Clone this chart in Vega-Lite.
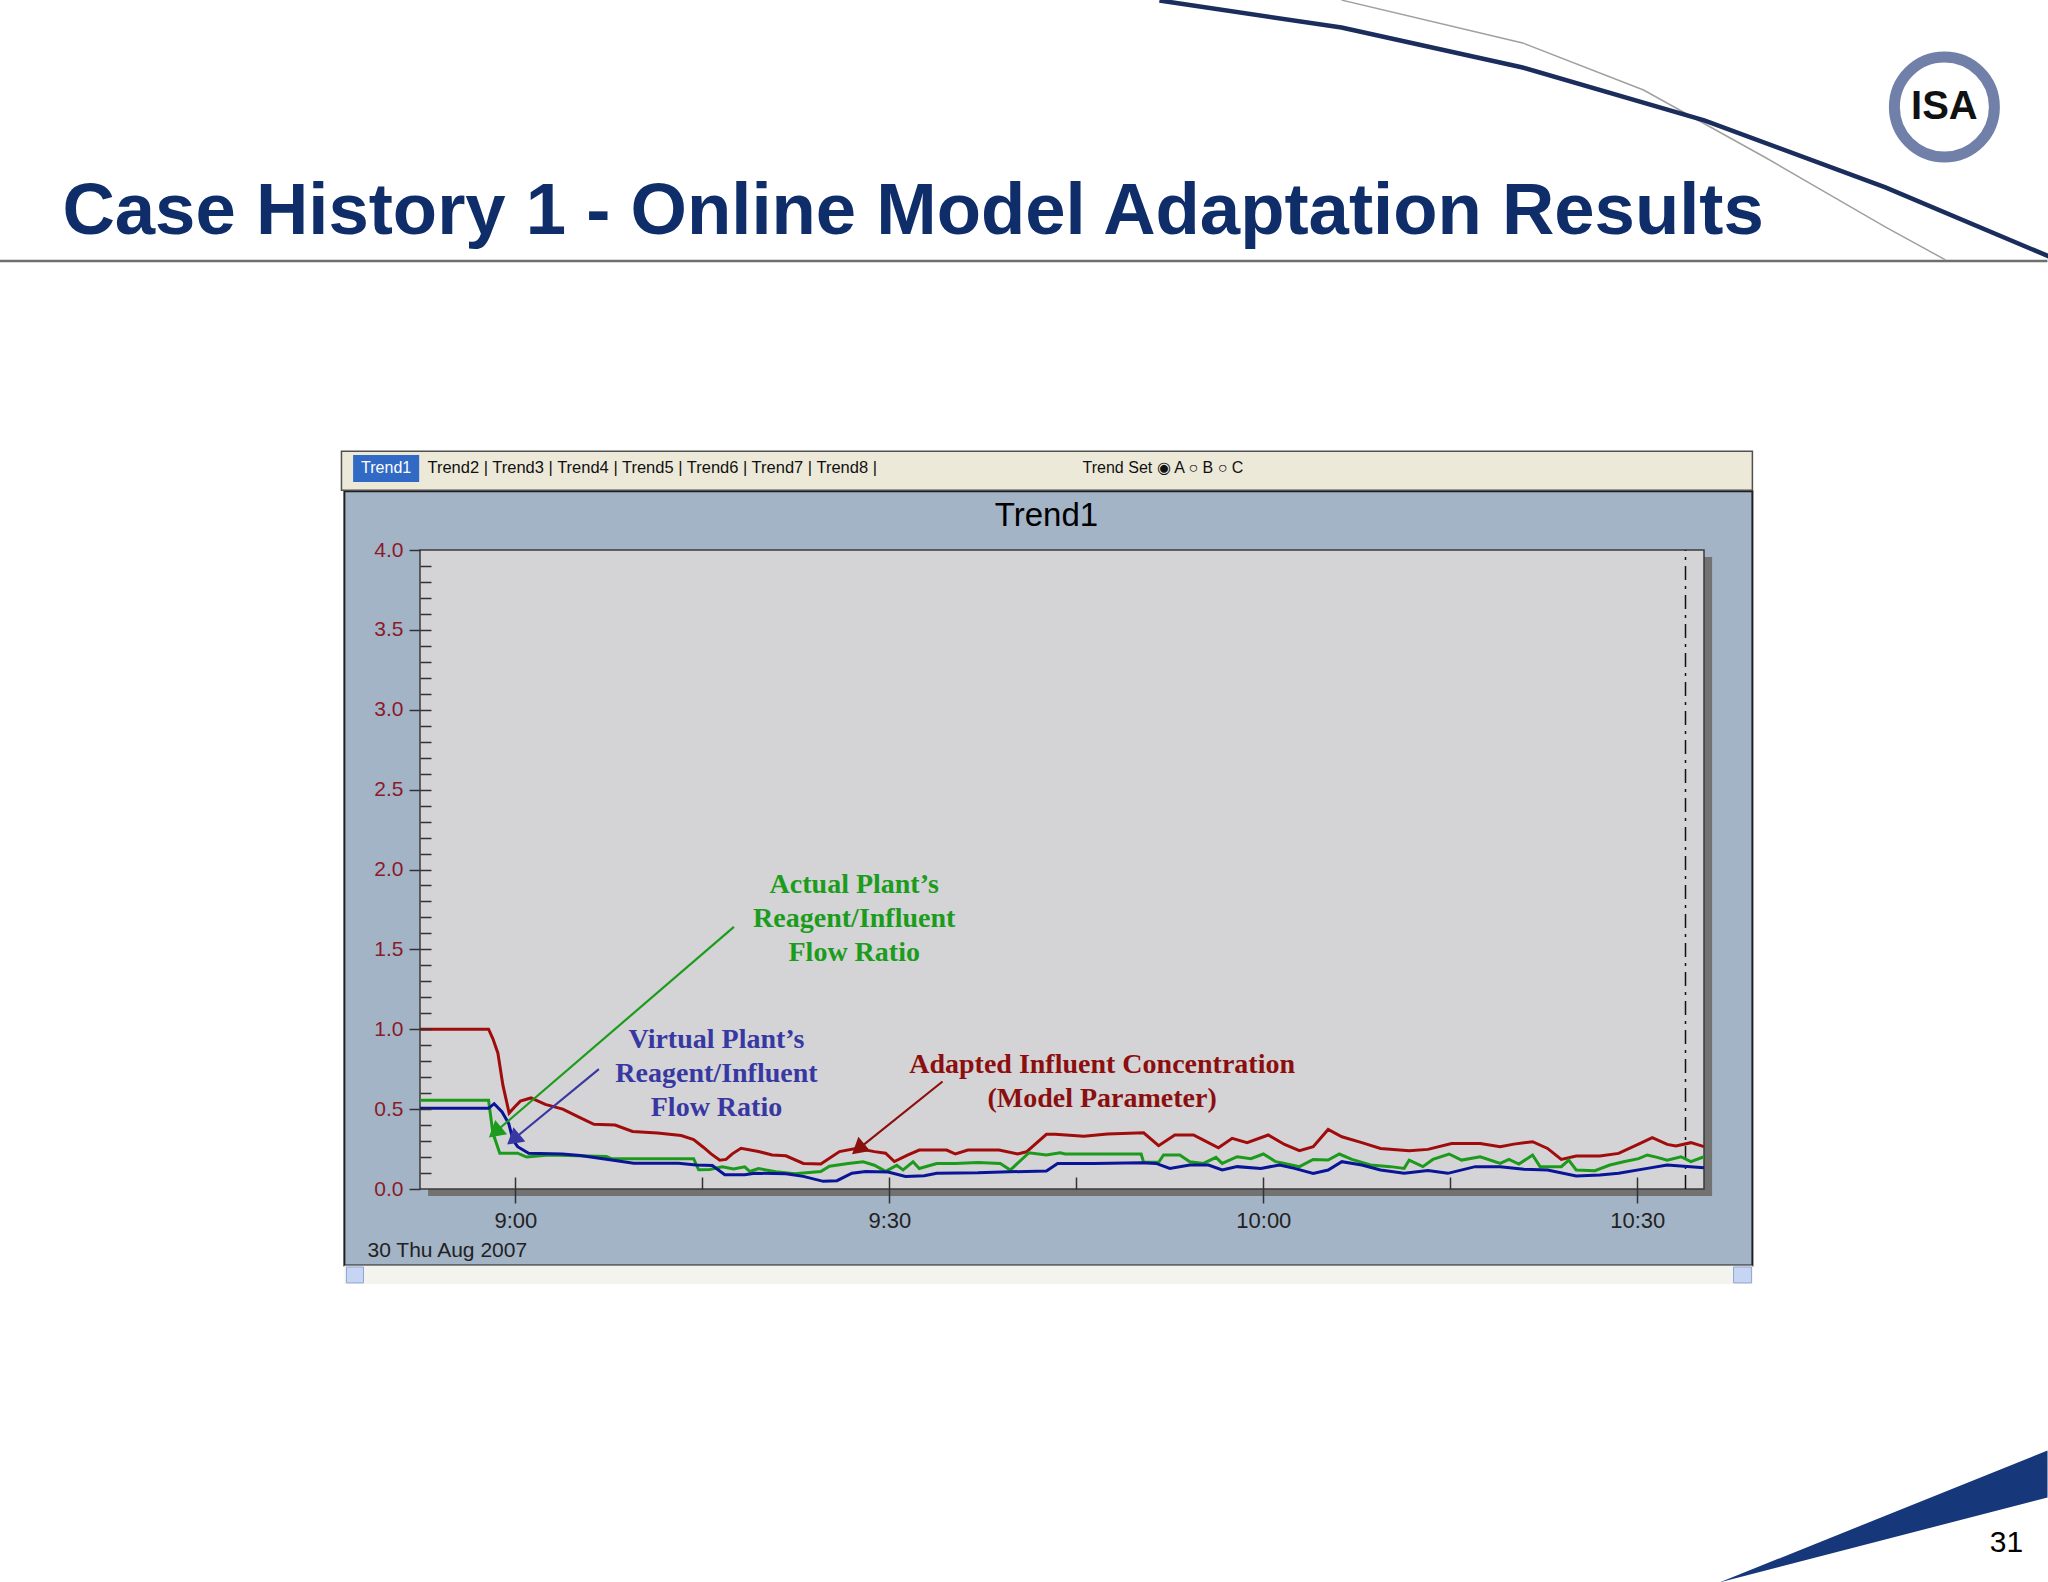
{
  "$schema": "https://vega.github.io/schema/vega-lite/v6.json",
  "width": 1284,
  "height": 639,
  "autosize": {"type": "none"},
  "padding": {"left": 420, "top": 550, "right": 344, "bottom": 393},
  "background": "white",
  "config": {"view": {"stroke": null}},
  "resolve": {"scale": {"color": "independent"}, "axis": {"x": "independent", "y": "independent"}},
  "layer": [
    {
      "data": {"values": [{}]},
      "mark": {"type": "rect", "fill": "#a3b4c6", "stroke": "#1f1f1f", "strokeWidth": 2},
      "encoding": {
        "x": {"datum": {"year": 2007, "month": 8, "date": 30, "hours": 8, "minutes": 46, "seconds": 17, "utc": true}, "type": "temporal",
          "axis": {"orient": "top", "title": "Trend1", "domain": false, "ticks": false, "labels": false, "grid": false, "titleX": 626, "titleY": -35, "titleBaseline": "middle", "titleAlign": "center", "titleAnchor": null, "titleFont": "Liberation Sans", "titleFontSize": 33, "titleFontWeight": "normal", "titleColor": "#000000", "zindex": 1}},
        "x2": {"datum": {"year": 2007, "month": 8, "date": 30, "hours": 10, "minutes": 39, "seconds": 14, "utc": true}},
        "y": {"datum": -0.479, "type": "quantitative", "axis": null},
        "y2": {"datum": 4.368}
      }
    },
    {
      "data": {"values": [{}]},
      "mark": {"type": "rect", "fill": "#f4f4ef"},
      "encoding": {
        "x": {"datum": {"year": 2007, "month": 8, "date": 30, "hours": 8, "minutes": 46, "seconds": 17, "utc": true}, "type": "temporal", "axis": null},
        "x2": {"datum": {"year": 2007, "month": 8, "date": 30, "hours": 10, "minutes": 39, "seconds": 14, "utc": true}},
        "y": {"datum": -0.479, "type": "quantitative", "axis": null},
        "y2": {"datum": -0.595}
      }
    },
    {
      "data": {"values": [{}]},
      "mark": {"type": "rect", "fill": "#c6d5f3", "stroke": "#8fa6d6", "strokeWidth": 1},
      "encoding": {
        "x": {"datum": {"year": 2007, "month": 8, "date": 30, "hours": 8, "minutes": 46, "seconds": 27, "utc": true}, "type": "temporal", "axis": null},
        "x2": {"datum": {"year": 2007, "month": 8, "date": 30, "hours": 8, "minutes": 47, "seconds": 49, "utc": true}},
        "y": {"datum": -0.488, "type": "quantitative", "axis": null},
        "y2": {"datum": -0.588}
      }
    },
    {
      "data": {"values": [{}]},
      "mark": {"type": "rect", "fill": "#c6d5f3", "stroke": "#8fa6d6", "strokeWidth": 1},
      "encoding": {
        "x": {"datum": {"year": 2007, "month": 8, "date": 30, "hours": 10, "minutes": 37, "seconds": 43, "utc": true}, "type": "temporal", "axis": null},
        "x2": {"datum": {"year": 2007, "month": 8, "date": 30, "hours": 10, "minutes": 39, "seconds": 10, "utc": true}},
        "y": {"datum": -0.488, "type": "quantitative", "axis": null},
        "y2": {"datum": -0.588}
      }
    },
    {
      "data": {"values": [{}]},
      "mark": {"type": "rect", "fill": "#ece9d8", "stroke": "#505050", "strokeWidth": 1.5},
      "encoding": {
        "x": {"datum": {"year": 2007, "month": 8, "date": 30, "hours": 8, "minutes": 46, "seconds": 3, "utc": true}, "type": "temporal", "axis": null},
        "x2": {"datum": {"year": 2007, "month": 8, "date": 30, "hours": 10, "minutes": 39, "seconds": 14, "utc": true}},
        "y": {"datum": 4.374, "type": "quantitative", "axis": null},
        "y2": {"datum": 4.618}
      }
    },
    {
      "data": {"values": [{}]},
      "mark": {"type": "rect", "fill": "#316ac5"},
      "encoding": {
        "x": {"datum": {"year": 2007, "month": 8, "date": 30, "hours": 8, "minutes": 46, "seconds": 59, "utc": true}, "type": "temporal", "axis": null},
        "x2": {"datum": {"year": 2007, "month": 8, "date": 30, "hours": 8, "minutes": 52, "seconds": 17, "utc": true}},
        "y": {"datum": 4.425, "type": "quantitative", "axis": null},
        "y2": {"datum": 4.594}
      }
    },
    {
      "data": {"values": [{}]},
      "mark": {"type": "text", "font": "Liberation Sans", "fontSize": 16, "color": "#ffffff", "align": "center", "baseline": "middle"},
      "encoding": {
        "x": {"datum": {"year": 2007, "month": 8, "date": 30, "hours": 8, "minutes": 49, "seconds": 38, "utc": true}, "type": "temporal", "axis": null},
        "y": {"datum": 4.512, "type": "quantitative", "axis": null},
        "text": {"value": "Trend1"}
      }
    },
    {
      "data": {"values": [{}]},
      "mark": {"type": "text", "font": "Liberation Sans", "fontSize": 16.5, "color": "#111111", "align": "left", "baseline": "middle"},
      "encoding": {
        "x": {"datum": {"year": 2007, "month": 8, "date": 30, "hours": 8, "minutes": 52, "seconds": 57, "utc": true}, "type": "temporal", "axis": null},
        "y": {"datum": 4.512, "type": "quantitative", "axis": null},
        "text": {"value": "Trend2 | Trend3 | Trend4 | Trend5 | Trend6 | Trend7 | Trend8 |"}
      }
    },
    {
      "data": {"values": [{}]},
      "mark": {"type": "text", "font": "Liberation Sans", "fontSize": 16, "color": "#111111", "align": "left", "baseline": "middle"},
      "encoding": {
        "x": {"datum": {"year": 2007, "month": 8, "date": 30, "hours": 9, "minutes": 45, "seconds": 30, "utc": true}, "type": "temporal", "axis": null},
        "y": {"datum": 4.512, "type": "quantitative", "axis": null},
        "text": {"value": "Trend Set ◉ A   ○ B  ○ C"}
      }
    },
    {
      "data": {"values": [{}]},
      "mark": {"type": "rect", "fill": "#727272"},
      "encoding": {
        "x": {"datum": {"year": 2007, "month": 8, "date": 30, "hours": 8, "minutes": 53, "seconds": 0, "utc": true}, "type": "temporal", "axis": null},
        "x2": {"datum": {"year": 2007, "month": 8, "date": 30, "hours": 10, "minutes": 36, "seconds": 0, "utc": true}},
        "y": {"datum": -0.044, "type": "quantitative", "axis": null},
        "y2": {"datum": 3.956}
      }
    },
    {
      "data": {"values": [{}]},
      "mark": {"type": "rect", "fill": "#d4d4d6", "stroke": "#3a3a3a", "strokeWidth": 1.5},
      "encoding": {
        "x": {"datum": {"year": 2007, "month": 8, "date": 30, "hours": 8, "minutes": 52, "seconds": 21, "utc": true}, "type": "temporal",
          "axis": {"orient": "bottom", "values": [
            {"year": 2007, "month": 8, "date": 30, "hours": 9, "minutes": 0, "utc": true},
            {"year": 2007, "month": 8, "date": 30, "hours": 9, "minutes": 15, "utc": true},
            {"year": 2007, "month": 8, "date": 30, "hours": 9, "minutes": 30, "utc": true},
            {"year": 2007, "month": 8, "date": 30, "hours": 9, "minutes": 45, "utc": true},
            {"year": 2007, "month": 8, "date": 30, "hours": 10, "minutes": 0, "utc": true},
            {"year": 2007, "month": 8, "date": 30, "hours": 10, "minutes": 15, "utc": true},
            {"year": 2007, "month": 8, "date": 30, "hours": 10, "minutes": 30, "utc": true}],
            "tickSize": -12, "tickColor": "#333333", "tickWidth": 1.5, "labels": false, "domain": false, "grid": false, "title": null, "zindex": 1}},
        "x2": {"datum": {"year": 2007, "month": 8, "date": 30, "hours": 10, "minutes": 35, "seconds": 21, "utc": true}},
        "y": {"datum": 0, "type": "quantitative",
          "axis": {"orient": "left", "values": [0.1,0.2,0.3,0.4,0.5,0.6,0.7,0.8,0.9,1.0,1.1,1.2,1.3,1.4,1.5,1.6,1.7,1.8,1.9,2.0,2.1,2.2,2.3,2.4,2.5,2.6,2.7,2.8,2.9,3.0,3.1,3.2,3.3,3.4,3.5,3.6,3.7,3.8,3.9],
            "tickSize": -11, "tickColor": "#333333", "tickWidth": 1.5, "labels": false, "domain": false, "grid": false, "title": null, "zindex": 1}},
        "y2": {"datum": 4}
      }
    },
    {
      "data": {"values": [{}]},
      "mark": {"type": "rule", "color": "#111111", "strokeWidth": 1.5, "strokeDash": [14, 6, 3, 6]},
      "encoding": {
        "x": {"datum": {"year": 2007, "month": 8, "date": 30, "hours": 10, "minutes": 33, "seconds": 52, "utc": true}, "type": "temporal", "axis": null},
        "y": {"datum": 0, "type": "quantitative", "axis": null},
        "y2": {"datum": 4}
      }
    },
    {
      "data": {"values": [
        {"series": "Adapted Influent Concentration", "time": "2007-08-30T08:52:21Z", "value": 1.0},
        {"series": "Adapted Influent Concentration", "time": "2007-08-30T08:57:51Z", "value": 1.0},
        {"series": "Adapted Influent Concentration", "time": "2007-08-30T08:58:12Z", "value": 0.94},
        {"series": "Adapted Influent Concentration", "time": "2007-08-30T08:58:36Z", "value": 0.85},
        {"series": "Adapted Influent Concentration", "time": "2007-08-30T08:59:00Z", "value": 0.65},
        {"series": "Adapted Influent Concentration", "time": "2007-08-30T08:59:30Z", "value": 0.475},
        {"series": "Adapted Influent Concentration", "time": "2007-08-30T08:59:54Z", "value": 0.51},
        {"series": "Adapted Influent Concentration", "time": "2007-08-30T09:00:24Z", "value": 0.55},
        {"series": "Adapted Influent Concentration", "time": "2007-08-30T09:01:15Z", "value": 0.57},
        {"series": "Adapted Influent Concentration", "time": "2007-08-30T09:02:24Z", "value": 0.53},
        {"series": "Adapted Influent Concentration", "time": "2007-08-30T09:03:48Z", "value": 0.50},
        {"series": "Adapted Influent Concentration", "time": "2007-08-30T09:05:06Z", "value": 0.45},
        {"series": "Adapted Influent Concentration", "time": "2007-08-30T09:06:18Z", "value": 0.405},
        {"series": "Adapted Influent Concentration", "time": "2007-08-30T09:08:00Z", "value": 0.40},
        {"series": "Adapted Influent Concentration", "time": "2007-08-30T09:09:24Z", "value": 0.36},
        {"series": "Adapted Influent Concentration", "time": "2007-08-30T09:11:24Z", "value": 0.35},
        {"series": "Adapted Influent Concentration", "time": "2007-08-30T09:13:18Z", "value": 0.335},
        {"series": "Adapted Influent Concentration", "time": "2007-08-30T09:14:18Z", "value": 0.31},
        {"series": "Adapted Influent Concentration", "time": "2007-08-30T09:15:06Z", "value": 0.26},
        {"series": "Adapted Influent Concentration", "time": "2007-08-30T09:15:42Z", "value": 0.22},
        {"series": "Adapted Influent Concentration", "time": "2007-08-30T09:16:24Z", "value": 0.18},
        {"series": "Adapted Influent Concentration", "time": "2007-08-30T09:16:54Z", "value": 0.185},
        {"series": "Adapted Influent Concentration", "time": "2007-08-30T09:17:24Z", "value": 0.22},
        {"series": "Adapted Influent Concentration", "time": "2007-08-30T09:18:06Z", "value": 0.255},
        {"series": "Adapted Influent Concentration", "time": "2007-08-30T09:19:30Z", "value": 0.235},
        {"series": "Adapted Influent Concentration", "time": "2007-08-30T09:20:36Z", "value": 0.213},
        {"series": "Adapted Influent Concentration", "time": "2007-08-30T09:21:42Z", "value": 0.208},
        {"series": "Adapted Influent Concentration", "time": "2007-08-30T09:23:06Z", "value": 0.16},
        {"series": "Adapted Influent Concentration", "time": "2007-08-30T09:24:30Z", "value": 0.157},
        {"series": "Adapted Influent Concentration", "time": "2007-08-30T09:26:00Z", "value": 0.234},
        {"series": "Adapted Influent Concentration", "time": "2007-08-30T09:27:24Z", "value": 0.255},
        {"series": "Adapted Influent Concentration", "time": "2007-08-30T09:28:48Z", "value": 0.234},
        {"series": "Adapted Influent Concentration", "time": "2007-08-30T09:29:42Z", "value": 0.224},
        {"series": "Adapted Influent Concentration", "time": "2007-08-30T09:30:24Z", "value": 0.172},
        {"series": "Adapted Influent Concentration", "time": "2007-08-30T09:31:30Z", "value": 0.213},
        {"series": "Adapted Influent Concentration", "time": "2007-08-30T09:32:24Z", "value": 0.244},
        {"series": "Adapted Influent Concentration", "time": "2007-08-30T09:34:36Z", "value": 0.244},
        {"series": "Adapted Influent Concentration", "time": "2007-08-30T09:35:18Z", "value": 0.219},
        {"series": "Adapted Influent Concentration", "time": "2007-08-30T09:36:18Z", "value": 0.244},
        {"series": "Adapted Influent Concentration", "time": "2007-08-30T09:38:48Z", "value": 0.244},
        {"series": "Adapted Influent Concentration", "time": "2007-08-30T09:40:18Z", "value": 0.219},
        {"series": "Adapted Influent Concentration", "time": "2007-08-30T09:41:00Z", "value": 0.233},
        {"series": "Adapted Influent Concentration", "time": "2007-08-30T09:42:36Z", "value": 0.342},
        {"series": "Adapted Influent Concentration", "time": "2007-08-30T09:43:18Z", "value": 0.342},
        {"series": "Adapted Influent Concentration", "time": "2007-08-30T09:45:36Z", "value": 0.331},
        {"series": "Adapted Influent Concentration", "time": "2007-08-30T09:47:30Z", "value": 0.344},
        {"series": "Adapted Influent Concentration", "time": "2007-08-30T09:50:24Z", "value": 0.352},
        {"series": "Adapted Influent Concentration", "time": "2007-08-30T09:51:36Z", "value": 0.271},
        {"series": "Adapted Influent Concentration", "time": "2007-08-30T09:52:54Z", "value": 0.338},
        {"series": "Adapted Influent Concentration", "time": "2007-08-30T09:54:24Z", "value": 0.338},
        {"series": "Adapted Influent Concentration", "time": "2007-08-30T09:55:12Z", "value": 0.306},
        {"series": "Adapted Influent Concentration", "time": "2007-08-30T09:56:24Z", "value": 0.258},
        {"series": "Adapted Influent Concentration", "time": "2007-08-30T09:57:30Z", "value": 0.317},
        {"series": "Adapted Influent Concentration", "time": "2007-08-30T09:58:42Z", "value": 0.29},
        {"series": "Adapted Influent Concentration", "time": "2007-08-30T10:00:24Z", "value": 0.338},
        {"series": "Adapted Influent Concentration", "time": "2007-08-30T10:01:42Z", "value": 0.279},
        {"series": "Adapted Influent Concentration", "time": "2007-08-30T10:02:54Z", "value": 0.24},
        {"series": "Adapted Influent Concentration", "time": "2007-08-30T10:04:00Z", "value": 0.265},
        {"series": "Adapted Influent Concentration", "time": "2007-08-30T10:05:12Z", "value": 0.373},
        {"series": "Adapted Influent Concentration", "time": "2007-08-30T10:06:18Z", "value": 0.327},
        {"series": "Adapted Influent Concentration", "time": "2007-08-30T10:07:54Z", "value": 0.29},
        {"series": "Adapted Influent Concentration", "time": "2007-08-30T10:09:24Z", "value": 0.254},
        {"series": "Adapted Influent Concentration", "time": "2007-08-30T10:11:42Z", "value": 0.24},
        {"series": "Adapted Influent Concentration", "time": "2007-08-30T10:13:12Z", "value": 0.248},
        {"series": "Adapted Influent Concentration", "time": "2007-08-30T10:15:06Z", "value": 0.285},
        {"series": "Adapted Influent Concentration", "time": "2007-08-30T10:17:24Z", "value": 0.285},
        {"series": "Adapted Influent Concentration", "time": "2007-08-30T10:19:00Z", "value": 0.265},
        {"series": "Adapted Influent Concentration", "time": "2007-08-30T10:20:06Z", "value": 0.281},
        {"series": "Adapted Influent Concentration", "time": "2007-08-30T10:21:36Z", "value": 0.296},
        {"series": "Adapted Influent Concentration", "time": "2007-08-30T10:22:48Z", "value": 0.254},
        {"series": "Adapted Influent Concentration", "time": "2007-08-30T10:23:54Z", "value": 0.185},
        {"series": "Adapted Influent Concentration", "time": "2007-08-30T10:25:06Z", "value": 0.206},
        {"series": "Adapted Influent Concentration", "time": "2007-08-30T10:27:00Z", "value": 0.206},
        {"series": "Adapted Influent Concentration", "time": "2007-08-30T10:28:30Z", "value": 0.223},
        {"series": "Adapted Influent Concentration", "time": "2007-08-30T10:30:06Z", "value": 0.281},
        {"series": "Adapted Influent Concentration", "time": "2007-08-30T10:31:12Z", "value": 0.321},
        {"series": "Adapted Influent Concentration", "time": "2007-08-30T10:32:24Z", "value": 0.279},
        {"series": "Adapted Influent Concentration", "time": "2007-08-30T10:33:06Z", "value": 0.269},
        {"series": "Adapted Influent Concentration", "time": "2007-08-30T10:34:18Z", "value": 0.29},
        {"series": "Adapted Influent Concentration", "time": "2007-08-30T10:35:21Z", "value": 0.265},
        {"series": "Actual Plant Reagent/Influent Flow Ratio", "time": "2007-08-30T08:52:21Z", "value": 0.555},
        {"series": "Actual Plant Reagent/Influent Flow Ratio", "time": "2007-08-30T08:57:51Z", "value": 0.555},
        {"series": "Actual Plant Reagent/Influent Flow Ratio", "time": "2007-08-30T08:58:12Z", "value": 0.35},
        {"series": "Actual Plant Reagent/Influent Flow Ratio", "time": "2007-08-30T08:58:45Z", "value": 0.224},
        {"series": "Actual Plant Reagent/Influent Flow Ratio", "time": "2007-08-30T09:00:11Z", "value": 0.224},
        {"series": "Actual Plant Reagent/Influent Flow Ratio", "time": "2007-08-30T09:00:54Z", "value": 0.20},
        {"series": "Actual Plant Reagent/Influent Flow Ratio", "time": "2007-08-30T09:02:42Z", "value": 0.213},
        {"series": "Actual Plant Reagent/Influent Flow Ratio", "time": "2007-08-30T09:07:18Z", "value": 0.203},
        {"series": "Actual Plant Reagent/Influent Flow Ratio", "time": "2007-08-30T09:07:42Z", "value": 0.19},
        {"series": "Actual Plant Reagent/Influent Flow Ratio", "time": "2007-08-30T09:14:18Z", "value": 0.19},
        {"series": "Actual Plant Reagent/Influent Flow Ratio", "time": "2007-08-30T09:14:42Z", "value": 0.12},
        {"series": "Actual Plant Reagent/Influent Flow Ratio", "time": "2007-08-30T09:15:36Z", "value": 0.122},
        {"series": "Actual Plant Reagent/Influent Flow Ratio", "time": "2007-08-30T09:16:36Z", "value": 0.139},
        {"series": "Actual Plant Reagent/Influent Flow Ratio", "time": "2007-08-30T09:17:30Z", "value": 0.125},
        {"series": "Actual Plant Reagent/Influent Flow Ratio", "time": "2007-08-30T09:18:24Z", "value": 0.139},
        {"series": "Actual Plant Reagent/Influent Flow Ratio", "time": "2007-08-30T09:18:48Z", "value": 0.11},
        {"series": "Actual Plant Reagent/Influent Flow Ratio", "time": "2007-08-30T09:19:30Z", "value": 0.128},
        {"series": "Actual Plant Reagent/Influent Flow Ratio", "time": "2007-08-30T09:20:54Z", "value": 0.108},
        {"series": "Actual Plant Reagent/Influent Flow Ratio", "time": "2007-08-30T09:22:24Z", "value": 0.095},
        {"series": "Actual Plant Reagent/Influent Flow Ratio", "time": "2007-08-30T09:24:30Z", "value": 0.11},
        {"series": "Actual Plant Reagent/Influent Flow Ratio", "time": "2007-08-30T09:25:12Z", "value": 0.143},
        {"series": "Actual Plant Reagent/Influent Flow Ratio", "time": "2007-08-30T09:26:42Z", "value": 0.16},
        {"series": "Actual Plant Reagent/Influent Flow Ratio", "time": "2007-08-30T09:27:54Z", "value": 0.17},
        {"series": "Actual Plant Reagent/Influent Flow Ratio", "time": "2007-08-30T09:28:48Z", "value": 0.149},
        {"series": "Actual Plant Reagent/Influent Flow Ratio", "time": "2007-08-30T09:29:42Z", "value": 0.11},
        {"series": "Actual Plant Reagent/Influent Flow Ratio", "time": "2007-08-30T09:30:36Z", "value": 0.149},
        {"series": "Actual Plant Reagent/Influent Flow Ratio", "time": "2007-08-30T09:31:06Z", "value": 0.12},
        {"series": "Actual Plant Reagent/Influent Flow Ratio", "time": "2007-08-30T09:31:54Z", "value": 0.17},
        {"series": "Actual Plant Reagent/Influent Flow Ratio", "time": "2007-08-30T09:32:24Z", "value": 0.128},
        {"series": "Actual Plant Reagent/Influent Flow Ratio", "time": "2007-08-30T09:33:48Z", "value": 0.16},
        {"series": "Actual Plant Reagent/Influent Flow Ratio", "time": "2007-08-30T09:35:18Z", "value": 0.16},
        {"series": "Actual Plant Reagent/Influent Flow Ratio", "time": "2007-08-30T09:37:06Z", "value": 0.166},
        {"series": "Actual Plant Reagent/Influent Flow Ratio", "time": "2007-08-30T09:38:54Z", "value": 0.16},
        {"series": "Actual Plant Reagent/Influent Flow Ratio", "time": "2007-08-30T09:39:42Z", "value": 0.119},
        {"series": "Actual Plant Reagent/Influent Flow Ratio", "time": "2007-08-30T09:41:12Z", "value": 0.227},
        {"series": "Actual Plant Reagent/Influent Flow Ratio", "time": "2007-08-30T09:42:36Z", "value": 0.213},
        {"series": "Actual Plant Reagent/Influent Flow Ratio", "time": "2007-08-30T09:43:42Z", "value": 0.227},
        {"series": "Actual Plant Reagent/Influent Flow Ratio", "time": "2007-08-30T09:44:06Z", "value": 0.219},
        {"series": "Actual Plant Reagent/Influent Flow Ratio", "time": "2007-08-30T09:50:12Z", "value": 0.219},
        {"series": "Actual Plant Reagent/Influent Flow Ratio", "time": "2007-08-30T09:50:24Z", "value": 0.167},
        {"series": "Actual Plant Reagent/Influent Flow Ratio", "time": "2007-08-30T09:51:36Z", "value": 0.167},
        {"series": "Actual Plant Reagent/Influent Flow Ratio", "time": "2007-08-30T09:52:00Z", "value": 0.213},
        {"series": "Actual Plant Reagent/Influent Flow Ratio", "time": "2007-08-30T09:53:18Z", "value": 0.213},
        {"series": "Actual Plant Reagent/Influent Flow Ratio", "time": "2007-08-30T09:54:06Z", "value": 0.171},
        {"series": "Actual Plant Reagent/Influent Flow Ratio", "time": "2007-08-30T09:55:12Z", "value": 0.16},
        {"series": "Actual Plant Reagent/Influent Flow Ratio", "time": "2007-08-30T09:56:12Z", "value": 0.198},
        {"series": "Actual Plant Reagent/Influent Flow Ratio", "time": "2007-08-30T09:56:42Z", "value": 0.16},
        {"series": "Actual Plant Reagent/Influent Flow Ratio", "time": "2007-08-30T09:57:54Z", "value": 0.202},
        {"series": "Actual Plant Reagent/Influent Flow Ratio", "time": "2007-08-30T09:59:00Z", "value": 0.19},
        {"series": "Actual Plant Reagent/Influent Flow Ratio", "time": "2007-08-30T10:00:00Z", "value": 0.219},
        {"series": "Actual Plant Reagent/Influent Flow Ratio", "time": "2007-08-30T10:01:00Z", "value": 0.171},
        {"series": "Actual Plant Reagent/Influent Flow Ratio", "time": "2007-08-30T10:01:42Z", "value": 0.16},
        {"series": "Actual Plant Reagent/Influent Flow Ratio", "time": "2007-08-30T10:02:54Z", "value": 0.14},
        {"series": "Actual Plant Reagent/Influent Flow Ratio", "time": "2007-08-30T10:04:00Z", "value": 0.185},
        {"series": "Actual Plant Reagent/Influent Flow Ratio", "time": "2007-08-30T10:05:12Z", "value": 0.181},
        {"series": "Actual Plant Reagent/Influent Flow Ratio", "time": "2007-08-30T10:06:06Z", "value": 0.219},
        {"series": "Actual Plant Reagent/Influent Flow Ratio", "time": "2007-08-30T10:07:06Z", "value": 0.185},
        {"series": "Actual Plant Reagent/Influent Flow Ratio", "time": "2007-08-30T10:08:36Z", "value": 0.15},
        {"series": "Actual Plant Reagent/Influent Flow Ratio", "time": "2007-08-30T10:10:12Z", "value": 0.14},
        {"series": "Actual Plant Reagent/Influent Flow Ratio", "time": "2007-08-30T10:11:18Z", "value": 0.129},
        {"series": "Actual Plant Reagent/Influent Flow Ratio", "time": "2007-08-30T10:11:42Z", "value": 0.181},
        {"series": "Actual Plant Reagent/Influent Flow Ratio", "time": "2007-08-30T10:12:48Z", "value": 0.14},
        {"series": "Actual Plant Reagent/Influent Flow Ratio", "time": "2007-08-30T10:13:36Z", "value": 0.185},
        {"series": "Actual Plant Reagent/Influent Flow Ratio", "time": "2007-08-30T10:14:54Z", "value": 0.219},
        {"series": "Actual Plant Reagent/Influent Flow Ratio", "time": "2007-08-30T10:15:54Z", "value": 0.181},
        {"series": "Actual Plant Reagent/Influent Flow Ratio", "time": "2007-08-30T10:17:24Z", "value": 0.202},
        {"series": "Actual Plant Reagent/Influent Flow Ratio", "time": "2007-08-30T10:19:00Z", "value": 0.16},
        {"series": "Actual Plant Reagent/Influent Flow Ratio", "time": "2007-08-30T10:19:42Z", "value": 0.185},
        {"series": "Actual Plant Reagent/Influent Flow Ratio", "time": "2007-08-30T10:20:30Z", "value": 0.156},
        {"series": "Actual Plant Reagent/Influent Flow Ratio", "time": "2007-08-30T10:21:36Z", "value": 0.213},
        {"series": "Actual Plant Reagent/Influent Flow Ratio", "time": "2007-08-30T10:22:12Z", "value": 0.14},
        {"series": "Actual Plant Reagent/Influent Flow Ratio", "time": "2007-08-30T10:23:54Z", "value": 0.14},
        {"series": "Actual Plant Reagent/Influent Flow Ratio", "time": "2007-08-30T10:24:30Z", "value": 0.181},
        {"series": "Actual Plant Reagent/Influent Flow Ratio", "time": "2007-08-30T10:25:06Z", "value": 0.119},
        {"series": "Actual Plant Reagent/Influent Flow Ratio", "time": "2007-08-30T10:26:36Z", "value": 0.115},
        {"series": "Actual Plant Reagent/Influent Flow Ratio", "time": "2007-08-30T10:27:48Z", "value": 0.15},
        {"series": "Actual Plant Reagent/Influent Flow Ratio", "time": "2007-08-30T10:28:54Z", "value": 0.171},
        {"series": "Actual Plant Reagent/Influent Flow Ratio", "time": "2007-08-30T10:30:06Z", "value": 0.19},
        {"series": "Actual Plant Reagent/Influent Flow Ratio", "time": "2007-08-30T10:30:48Z", "value": 0.213},
        {"series": "Actual Plant Reagent/Influent Flow Ratio", "time": "2007-08-30T10:31:36Z", "value": 0.198},
        {"series": "Actual Plant Reagent/Influent Flow Ratio", "time": "2007-08-30T10:32:24Z", "value": 0.181},
        {"series": "Actual Plant Reagent/Influent Flow Ratio", "time": "2007-08-30T10:33:30Z", "value": 0.202},
        {"series": "Actual Plant Reagent/Influent Flow Ratio", "time": "2007-08-30T10:34:18Z", "value": 0.171},
        {"series": "Actual Plant Reagent/Influent Flow Ratio", "time": "2007-08-30T10:35:21Z", "value": 0.202},
        {"series": "Virtual Plant Reagent/Influent Flow Ratio", "time": "2007-08-30T08:52:21Z", "value": 0.505},
        {"series": "Virtual Plant Reagent/Influent Flow Ratio", "time": "2007-08-30T08:57:51Z", "value": 0.505},
        {"series": "Virtual Plant Reagent/Influent Flow Ratio", "time": "2007-08-30T08:58:18Z", "value": 0.534},
        {"series": "Virtual Plant Reagent/Influent Flow Ratio", "time": "2007-08-30T08:58:56Z", "value": 0.482},
        {"series": "Virtual Plant Reagent/Influent Flow Ratio", "time": "2007-08-30T08:59:28Z", "value": 0.41},
        {"series": "Virtual Plant Reagent/Influent Flow Ratio", "time": "2007-08-30T08:59:49Z", "value": 0.306},
        {"series": "Virtual Plant Reagent/Influent Flow Ratio", "time": "2007-08-30T09:00:11Z", "value": 0.265},
        {"series": "Virtual Plant Reagent/Influent Flow Ratio", "time": "2007-08-30T09:01:04Z", "value": 0.224},
        {"series": "Virtual Plant Reagent/Influent Flow Ratio", "time": "2007-08-30T09:03:46Z", "value": 0.219},
        {"series": "Virtual Plant Reagent/Influent Flow Ratio", "time": "2007-08-30T09:05:12Z", "value": 0.209},
        {"series": "Virtual Plant Reagent/Influent Flow Ratio", "time": "2007-08-30T09:07:18Z", "value": 0.186},
        {"series": "Virtual Plant Reagent/Influent Flow Ratio", "time": "2007-08-30T09:09:30Z", "value": 0.161},
        {"series": "Virtual Plant Reagent/Influent Flow Ratio", "time": "2007-08-30T09:13:06Z", "value": 0.161},
        {"series": "Virtual Plant Reagent/Influent Flow Ratio", "time": "2007-08-30T09:14:30Z", "value": 0.151},
        {"series": "Virtual Plant Reagent/Influent Flow Ratio", "time": "2007-08-30T09:15:48Z", "value": 0.147},
        {"series": "Virtual Plant Reagent/Influent Flow Ratio", "time": "2007-08-30T09:16:48Z", "value": 0.089},
        {"series": "Virtual Plant Reagent/Influent Flow Ratio", "time": "2007-08-30T09:18:24Z", "value": 0.089},
        {"series": "Virtual Plant Reagent/Influent Flow Ratio", "time": "2007-08-30T09:19:12Z", "value": 0.099},
        {"series": "Virtual Plant Reagent/Influent Flow Ratio", "time": "2007-08-30T09:21:42Z", "value": 0.095},
        {"series": "Virtual Plant Reagent/Influent Flow Ratio", "time": "2007-08-30T09:23:06Z", "value": 0.079},
        {"series": "Virtual Plant Reagent/Influent Flow Ratio", "time": "2007-08-30T09:24:42Z", "value": 0.048},
        {"series": "Virtual Plant Reagent/Influent Flow Ratio", "time": "2007-08-30T09:25:48Z", "value": 0.052},
        {"series": "Virtual Plant Reagent/Influent Flow Ratio", "time": "2007-08-30T09:27:00Z", "value": 0.099},
        {"series": "Virtual Plant Reagent/Influent Flow Ratio", "time": "2007-08-30T09:28:06Z", "value": 0.11},
        {"series": "Virtual Plant Reagent/Influent Flow Ratio", "time": "2007-08-30T09:29:54Z", "value": 0.106},
        {"series": "Virtual Plant Reagent/Influent Flow Ratio", "time": "2007-08-30T09:31:18Z", "value": 0.079},
        {"series": "Virtual Plant Reagent/Influent Flow Ratio", "time": "2007-08-30T09:32:48Z", "value": 0.083},
        {"series": "Virtual Plant Reagent/Influent Flow Ratio", "time": "2007-08-30T09:33:48Z", "value": 0.099},
        {"series": "Virtual Plant Reagent/Influent Flow Ratio", "time": "2007-08-30T09:37:06Z", "value": 0.101},
        {"series": "Virtual Plant Reagent/Influent Flow Ratio", "time": "2007-08-30T09:39:36Z", "value": 0.108},
        {"series": "Virtual Plant Reagent/Influent Flow Ratio", "time": "2007-08-30T09:42:36Z", "value": 0.112},
        {"series": "Virtual Plant Reagent/Influent Flow Ratio", "time": "2007-08-30T09:43:30Z", "value": 0.16},
        {"series": "Virtual Plant Reagent/Influent Flow Ratio", "time": "2007-08-30T09:46:24Z", "value": 0.16},
        {"series": "Virtual Plant Reagent/Influent Flow Ratio", "time": "2007-08-30T09:50:12Z", "value": 0.165},
        {"series": "Virtual Plant Reagent/Influent Flow Ratio", "time": "2007-08-30T09:51:24Z", "value": 0.16},
        {"series": "Virtual Plant Reagent/Influent Flow Ratio", "time": "2007-08-30T09:52:30Z", "value": 0.129},
        {"series": "Virtual Plant Reagent/Influent Flow Ratio", "time": "2007-08-30T09:54:06Z", "value": 0.15},
        {"series": "Virtual Plant Reagent/Influent Flow Ratio", "time": "2007-08-30T09:55:36Z", "value": 0.15},
        {"series": "Virtual Plant Reagent/Influent Flow Ratio", "time": "2007-08-30T09:56:42Z", "value": 0.119},
        {"series": "Virtual Plant Reagent/Influent Flow Ratio", "time": "2007-08-30T09:57:54Z", "value": 0.14},
        {"series": "Virtual Plant Reagent/Influent Flow Ratio", "time": "2007-08-30T09:59:48Z", "value": 0.129},
        {"series": "Virtual Plant Reagent/Influent Flow Ratio", "time": "2007-08-30T10:01:18Z", "value": 0.15},
        {"series": "Virtual Plant Reagent/Influent Flow Ratio", "time": "2007-08-30T10:02:30Z", "value": 0.129},
        {"series": "Virtual Plant Reagent/Influent Flow Ratio", "time": "2007-08-30T10:04:00Z", "value": 0.098},
        {"series": "Virtual Plant Reagent/Influent Flow Ratio", "time": "2007-08-30T10:05:12Z", "value": 0.119},
        {"series": "Virtual Plant Reagent/Influent Flow Ratio", "time": "2007-08-30T10:06:18Z", "value": 0.171},
        {"series": "Virtual Plant Reagent/Influent Flow Ratio", "time": "2007-08-30T10:07:54Z", "value": 0.15},
        {"series": "Virtual Plant Reagent/Influent Flow Ratio", "time": "2007-08-30T10:09:24Z", "value": 0.119},
        {"series": "Virtual Plant Reagent/Influent Flow Ratio", "time": "2007-08-30T10:11:18Z", "value": 0.098},
        {"series": "Virtual Plant Reagent/Influent Flow Ratio", "time": "2007-08-30T10:13:12Z", "value": 0.115},
        {"series": "Virtual Plant Reagent/Influent Flow Ratio", "time": "2007-08-30T10:14:48Z", "value": 0.098},
        {"series": "Virtual Plant Reagent/Influent Flow Ratio", "time": "2007-08-30T10:17:00Z", "value": 0.14},
        {"series": "Virtual Plant Reagent/Influent Flow Ratio", "time": "2007-08-30T10:19:00Z", "value": 0.14},
        {"series": "Virtual Plant Reagent/Influent Flow Ratio", "time": "2007-08-30T10:20:54Z", "value": 0.123},
        {"series": "Virtual Plant Reagent/Influent Flow Ratio", "time": "2007-08-30T10:22:48Z", "value": 0.119},
        {"series": "Virtual Plant Reagent/Influent Flow Ratio", "time": "2007-08-30T10:25:06Z", "value": 0.081},
        {"series": "Virtual Plant Reagent/Influent Flow Ratio", "time": "2007-08-30T10:27:00Z", "value": 0.088},
        {"series": "Virtual Plant Reagent/Influent Flow Ratio", "time": "2007-08-30T10:28:30Z", "value": 0.098},
        {"series": "Virtual Plant Reagent/Influent Flow Ratio", "time": "2007-08-30T10:30:48Z", "value": 0.129},
        {"series": "Virtual Plant Reagent/Influent Flow Ratio", "time": "2007-08-30T10:32:24Z", "value": 0.15},
        {"series": "Virtual Plant Reagent/Influent Flow Ratio", "time": "2007-08-30T10:35:21Z", "value": 0.133}
      ]},
      "mark": {"type": "line", "strokeWidth": 3},
      "encoding": {
        "x": {"field": "time", "type": "temporal",
          "scale": {"type": "utc", "domain": [
            {"year": 2007, "month": 8, "date": 30, "hours": 8, "minutes": 52, "seconds": 21, "utc": true},
            {"year": 2007, "month": 8, "date": 30, "hours": 10, "minutes": 35, "seconds": 21, "utc": true}]},
          "axis": {"orient": "bottom", "values": [
            {"year": 2007, "month": 8, "date": 30, "hours": 9, "minutes": 0, "utc": true},
            {"year": 2007, "month": 8, "date": 30, "hours": 9, "minutes": 30, "utc": true},
            {"year": 2007, "month": 8, "date": 30, "hours": 10, "minutes": 0, "utc": true},
            {"year": 2007, "month": 8, "date": 30, "hours": 10, "minutes": 30, "utc": true}],
            "labelExpr": "utcFormat(datum.value, '%-H:%M')", "grid": false, "domain": false,
            "tickSize": 14, "tickColor": "#333333", "tickWidth": 1.5, "labelPadding": 7, "labelFlush": false,
            "labelFont": "Liberation Sans", "labelFontSize": 22, "labelColor": "#222222",
            "title": "30 Thu Aug 2007", "titleFont": "Liberation Sans", "titleFontSize": 21, "titleFontWeight": "normal", "titleColor": "#222222",
            "titleX": -53, "titleY": 67, "titleAlign": "left", "titleBaseline": "alphabetic", "titleAnchor": null, "zindex": 1}},
        "y": {"field": "value", "type": "quantitative",
          "scale": {"domain": [0, 4], "nice": false, "zero": false},
          "axis": {"orient": "left", "values": [0, 0.5, 1, 1.5, 2, 2.5, 3, 3.5, 4], "format": ".1f", "grid": false, "domain": false,
            "tickSize": 11, "tickColor": "#333333", "tickWidth": 1.5, "labelPadding": 6,
            "labelFont": "Liberation Sans", "labelFontSize": 21, "labelColor": "#8b1a2a", "title": null, "zindex": 1}},
        "color": {"field": "series", "type": "nominal",
          "scale": {"domain": ["Adapted Influent Concentration", "Actual Plant Reagent/Influent Flow Ratio", "Virtual Plant Reagent/Influent Flow Ratio"], "range": ["#a00c0c", "#1c9a1c", "#0a1496"]},
          "legend": null}
      }
    },
    {
      "data": {"name": "notes", "values": [
        {"note": "Actual", "label": "Actual Plant’s\nReagent/Influent\nFlow Ratio", "t": "2007-08-30T09:27:11Z", "v": 1.903, "t0": "2007-08-30T09:17:32Z", "v0": 1.641, "t1": "2007-08-30T08:58:22Z", "v1": 0.355},
        {"note": "Virtual", "label": "Virtual Plant’s\nReagent/Influent\nFlow Ratio", "t": "2007-08-30T09:16:08Z", "v": 0.933, "t0": "2007-08-30T09:06:42Z", "v0": 0.75, "t1": "2007-08-30T08:59:50Z", "v1": 0.31},
        {"note": "Adapted", "label": "Adapted Influent Concentration\n(Model Parameter)", "t": "2007-08-30T09:47:04Z", "v": 0.776, "t0": "2007-08-30T09:34:16Z", "v0": 0.673, "t1": "2007-08-30T09:27:30Z", "v1": 0.25}
      ]},
      "mark": {"type": "rule", "strokeWidth": 2.2},
      "encoding": {
        "x": {"field": "t0", "type": "temporal", "axis": null},
        "y": {"field": "v0", "type": "quantitative", "axis": null},
        "x2": {"field": "t1"},
        "y2": {"field": "v1"},
        "color": {"field": "note", "type": "nominal", "scale": {"domain": ["Actual", "Virtual", "Adapted"], "range": ["#1c9c1c", "#3838a2", "#8c0f0f"]}, "legend": null}
      }
    },
    {
      "data": {"name": "notes"},
      "mark": {"type": "point", "shape": "triangle-up", "filled": true, "opacity": 1, "size": 340, "angle": 230},
      "encoding": {
        "x": {"field": "t1", "type": "temporal", "axis": null},
        "y": {"field": "v1", "type": "quantitative", "axis": null},
        "color": {"field": "note", "type": "nominal", "scale": {"domain": ["Actual", "Virtual", "Adapted"], "range": ["#1c9c1c", "#3838a2", "#8c0f0f"]}, "legend": null}
      }
    },
    {
      "data": {"name": "notes"},
      "mark": {"type": "text", "font": "Liberation Serif", "fontWeight": "bold", "fontSize": 28, "lineBreak": "\n", "lineHeight": 34, "align": "center", "baseline": "middle"},
      "encoding": {
        "x": {"field": "t", "type": "temporal", "axis": null},
        "y": {"field": "v", "type": "quantitative", "axis": null},
        "text": {"field": "label"},
        "color": {"field": "note", "type": "nominal", "scale": {"domain": ["Actual", "Virtual", "Adapted"], "range": ["#1c9c1c", "#3838a2", "#8c0f0f"]}, "legend": null}
      }
    },
    {
      "data": {"values": [{}]},
      "mark": {"type": "text", "font": "Liberation Sans", "fontSize": 72.5, "fontWeight": "bold", "color": "#0f2d69", "align": "left", "baseline": "alphabetic"},
      "encoding": {
        "x": {"datum": {"year": 2007, "month": 8, "date": 30, "hours": 8, "minutes": 23, "seconds": 40, "utc": true}, "type": "temporal", "axis": null},
        "y": {"datum": 5.981, "type": "quantitative", "axis": null},
        "text": {"value": "Case History 1 - Online Model Adaptation Results"}
      }
    },
    {
      "data": {"values": [{}]},
      "mark": {"type": "rule", "color": "#6e6e6e", "strokeWidth": 2.5},
      "encoding": {
        "x": {"datum": {"year": 2007, "month": 8, "date": 30, "hours": 8, "minutes": 18, "seconds": 37, "utc": true}, "type": "temporal", "axis": null},
        "x2": {"datum": {"year": 2007, "month": 8, "date": 30, "hours": 11, "minutes": 2, "seconds": 54, "utc": true}},
        "y": {"datum": 5.809, "type": "quantitative", "axis": null}
      }
    },
    {
      "data": {"values": [{}]},
      "mark": {"type": "point", "shape": "M-0.974,-0.419 L-0.39,-0.281 L0,-0.129 L0.39,0.087 L0.781,0.313 L0.974,0.419", "filled": false, "size": 384400, "stroke": "#a0a0a0", "strokeWidth": 1.5, "opacity": 1},
      "encoding": {
        "x": {"datum": {"year": 2007, "month": 8, "date": 30, "hours": 10, "minutes": 30, "seconds": 30, "utc": true}, "type": "temporal", "axis": null},
        "y": {"datum": 6.629, "type": "quantitative", "axis": null}
      }
    },
    {
      "data": {"values": [{}]},
      "mark": {"type": "point", "shape": "M-1,-0.286 L-0.59,-0.225 L-0.182,-0.135 L0.227,-0.016 L0.635,0.135 L1.05,0.31", "filled": false, "size": 788544, "stroke": "#1b2d5c", "strokeWidth": 4.5, "opacity": 1},
      "encoding": {
        "x": {"datum": {"year": 2007, "month": 8, "date": 30, "hours": 10, "minutes": 27, "seconds": 17, "utc": true}, "type": "temporal", "axis": null},
        "y": {"datum": 6.645, "type": "quantitative", "axis": null}
      }
    },
    {
      "data": {"values": [{}]},
      "mark": {"type": "point", "shape": "M-1,0.402 L1,-0.402 L1,-0.116 Z", "filled": true, "size": 107584, "color": "#16377a", "opacity": 1},
      "encoding": {
        "x": {"datum": {"year": 2007, "month": 8, "date": 30, "hours": 10, "minutes": 49, "seconds": 45, "utc": true}, "type": "temporal", "axis": null},
        "y": {"datum": -2.05, "type": "quantitative", "axis": null}
      }
    },
    {
      "data": {"values": [{}]},
      "mark": {"type": "text", "font": "Liberation Sans", "fontSize": 30, "color": "#000000", "align": "center", "baseline": "middle"},
      "encoding": {
        "x": {"datum": {"year": 2007, "month": 8, "date": 30, "hours": 10, "minutes": 59, "seconds": 37, "utc": true}, "type": "temporal", "axis": null},
        "y": {"datum": -2.214, "type": "quantitative", "axis": null},
        "text": {"value": "31"}
      }
    },
    {
      "data": {"values": [{}]},
      "mark": {"type": "point", "shape": "circle", "filled": false, "size": 10000, "stroke": "#7080a8", "strokeWidth": 11, "opacity": 1},
      "encoding": {
        "x": {"datum": {"year": 2007, "month": 8, "date": 30, "hours": 10, "minutes": 54, "seconds": 38, "utc": true}, "type": "temporal", "axis": null},
        "y": {"datum": 6.773, "type": "quantitative", "axis": null}
      }
    },
    {
      "data": {"values": [{}]},
      "mark": {"type": "text", "font": "Liberation Sans", "fontWeight": "bold", "fontSize": 40, "color": "#111111", "align": "center", "baseline": "middle"},
      "encoding": {
        "x": {"datum": {"year": 2007, "month": 8, "date": 30, "hours": 10, "minutes": 54, "seconds": 38, "utc": true}, "type": "temporal", "axis": null},
        "y": {"datum": 6.773, "type": "quantitative", "axis": null},
        "text": {"value": "ISA"}
      }
    }
  ]
}
